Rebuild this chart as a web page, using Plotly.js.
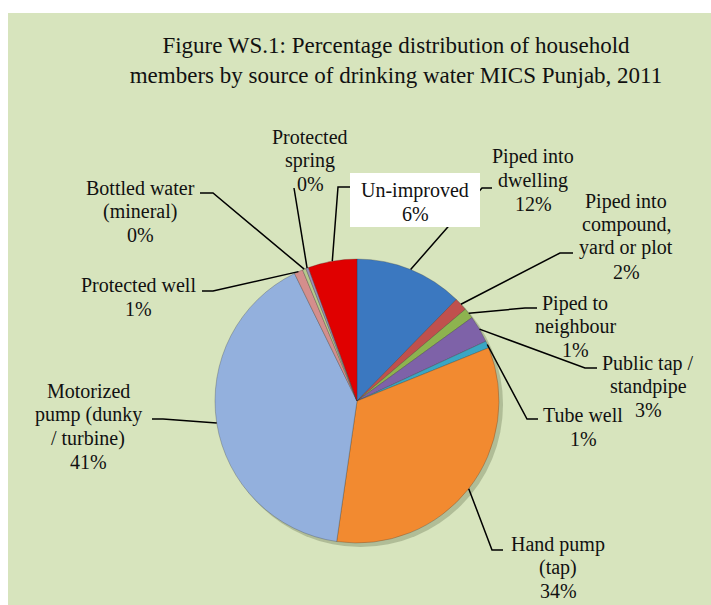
<!DOCTYPE html>
<html><head><meta charset="utf-8">
<script src="https://cdn.plot.ly/plotly-3.0.1.min.js"></script>
<style>
html,body{margin:0;padding:0;background:#fff;overflow:hidden;width:711px;height:605px;}
#chart{position:absolute;left:8px;top:13px;width:703px;height:592px;}
</style></head><body><div id="chart"></div>
<script>
// ---- data ----
const categories = ["Piped into dwelling", "Piped into compound, yard or plot", "Piped to neighbour",
  "Public tap / standpipe", "Tube well", "Hand pump (tap)", "Motorized pump (dunky / turbine)",
  "Protected well", "Bottled water (mineral)", "Protected spring", "Un-improved"];
const values = [12.4, 1.5, 1.2, 3.1, 0.8, 33.6, 40.7, 1.0, 0.4, 0.3, 5.6];
const labelLines = [["Piped into", "dwelling"], ["Piped into", "compound,", "yard or plot"],
  ["Piped to", "neighbour"], ["Public tap /", "standpipe"], ["Tube well"], ["Hand pump", "(tap)"],
  ["Motorized", "pump (dunky", "/ turbine)"], ["Protected well"], ["Bottled water", "(mineral)"],
  ["Protected", "spring"], ["Un-improved"]];
const titleText = "Figure WS.1: Percentage distribution of household<br>members by source of drinking water MICS Punjab, 2011";

// ---- styles / layout positions (page pixels) ----
const colors = ["#3b78c0", "#c0504d", "#8db34f", "#7e62a8", "#3aa6c4", "#f28a30", "#93b0dd",
  "#d48e8c", "#b7c98c", "#9c8fb8", "#e00000"];
const labelPos = [[533,157],[626,201],[575,303],[648,363],[583,415],[558,544],[88,391],[138,285],[140,188],[310,137],[415,190]];
const leaderPts = [[492,188,482,188],[573,253,560,253],[537,308,525,308],[597,368,585,368],[538,419,527,419],
  [503,550,492,550],[152,419,163,419],[202,291,213,291],[200,193,213,193],[294,188,294,188],[350,187,338,187]];
const OX = 8, OY = 13, W = 703, H = 592;
const CX = 357, CY = 401, R = 142;
const px = x => (x - OX) / W;
const py = y => 1 - (y - OY) / H;
const LINE_H = 23.5;
const FONT = "'Liberation Serif', 'Times New Roman', serif";

const total = values.reduce((a, b) => a + b, 0);
let cum = 0;
const shapes = [];
// subtle shadow under pie
shapes.push({type: "circle", xref: "paper", yref: "paper", layer: "below",
  x0: px(CX - R + 3), x1: px(CX + R + 4), y0: py(CY + R + 4), y1: py(CY - R + 3),
  fillcolor: "rgba(60,70,40,0.25)", line: {width: 0}});
const annotations = [];
values.forEach((v, i) => {
  const th = 2 * Math.PI * (cum + v / 2) / total;
  cum += v;
  const ex = CX + R * Math.sin(th), ey = CY - R * Math.cos(th);
  const L = leaderPts[i];
  shapes.push({type: "path", xref: "paper", yref: "paper", layer: "above",
    path: `M ${px(L[0])},${py(L[1])} L ${px(L[2])},${py(L[3])} L ${px(ex)},${py(ey)}`,
    line: {color: "#000", width: 1.5}});
  const lines = labelLines[i].concat([Math.round(v) + "%"]);
  lines.forEach((t, k) => {
    annotations.push({xref: "paper", yref: "paper", x: px(labelPos[i][0]), y: py(labelPos[i][1] + k * LINE_H),
      xanchor: "center", yanchor: "middle", showarrow: false, text: t,
      font: {family: FONT, size: 20, color: "#111111"}});
  });
});
// white box behind "Un-improved"
shapes.push({type: "rect", xref: "paper", yref: "paper", layer: "above",
  x0: px(350), x1: px(480), y0: py(227), y1: py(173), fillcolor: "#ffffff", line: {width: 0}});

const data = [{
  type: "pie", labels: categories, values: values, sort: false, direction: "clockwise", rotation: 0,
  marker: {colors: colors, line: {color: "rgba(50,50,50,0.35)", width: 0.8}},
  textinfo: "none", hoverinfo: "label+percent", showlegend: false,
  domain: {x: [px(CX - R), px(CX + R)], y: [py(CY + R), py(CY - R)]}
}];
const layout = {
  width: W, height: H, margin: {l: 0, r: 0, t: 0, b: 0},
  font: {family: FONT},
  paper_bgcolor: "#d7e4bd", plot_bgcolor: "#d7e4bd",
  title: {text: titleText, font: {family: FONT, size: 23, color: "#111111"},
    xref: "paper", yref: "container", x: px(396), xanchor: "center", y: py(53), yanchor: "middle"},
  shapes: shapes, annotations: annotations, showlegend: false
};
Plotly.newPlot("chart", data, layout, {displayModeBar: false, staticPlot: true});
</script></body></html>
